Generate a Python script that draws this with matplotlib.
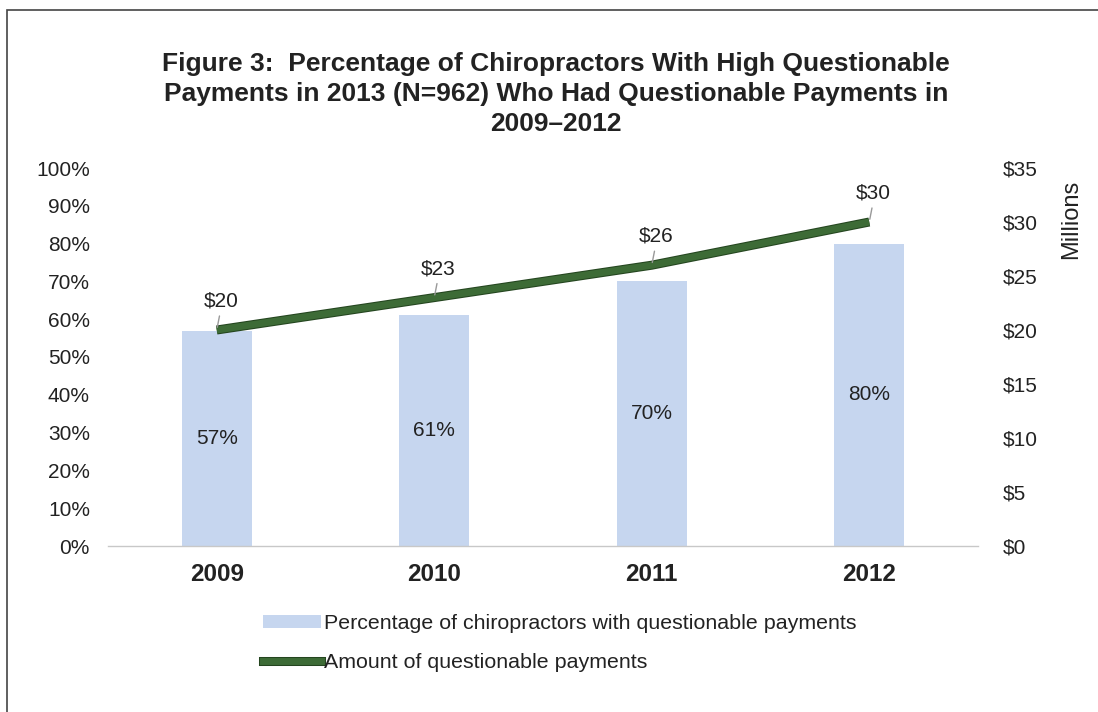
import matplotlib
matplotlib.use("Agg")
import matplotlib.pyplot as plt
from matplotlib.lines import Line2D
from matplotlib.patches import Patch, Rectangle
import matplotlib.patheffects as pe

plt.rcParams['font.family'] = ['Liberation Sans', 'DejaVu Sans']

years = ["2009", "2010", "2011", "2012"]
pct_values = [57, 61, 70, 80]
amount_values = [20, 23, 26, 30]
pct_ticks = [0, 10, 20, 30, 40, 50, 60, 70, 80, 90, 100]
amount_ticks = [0, 5, 10, 15, 20, 25, 30, 35]

title = ("Figure 3:  Percentage of Chiropractors With High Questionable\n"
         "Payments in 2013 (N=962) Who Had Questionable Payments in\n"
         "2009\u20132012")

bar_color = "#c6d6ef"
line_color = "#3d6b36"
text_color = "#222222"

fig = plt.figure(figsize=(10.98, 7.12), dpi=100)
ax = fig.add_axes([108/1098, 1-546/712, 870/1098, 378/712])
ax2 = ax.twinx()

x = list(range(len(years)))
ax.bar(x, pct_values, width=0.32, color=bar_color, zorder=1)
ax.set_xlim(-0.5, len(years) - 0.5)
ax.set_ylim(0, 100)
ax.set_yticks(pct_ticks)
ax.set_yticklabels([f"{v}%" for v in pct_ticks], fontsize=15, color=text_color)
ax.set_xticks(x)
ax.set_xticklabels(years, fontsize=17.5, fontweight='bold', color=text_color)
ax.tick_params(axis='both', length=0)
ax.tick_params(axis='x', pad=12)
ax.tick_params(axis='y', pad=13)
for s in ['top', 'right', 'left']:
    ax.spines[s].set_visible(False)
ax.spines['bottom'].set_color('#c8c8c8')
ax.spines['bottom'].set_linewidth(1)

for xi, v in zip(x, pct_values):
    ax.text(xi, v / 2, f"{v}%", ha='center', va='center', fontsize=15, color=text_color)

stroke = [pe.Stroke(linewidth=6.5, foreground='#24451f'), pe.Normal()]
ax2.plot(x, amount_values, color=line_color, lw=5, solid_capstyle='butt', zorder=3,
         path_effects=stroke)
ax2.set_ylim(0, 35)
ax2.set_yticks(amount_ticks)
ax2.set_yticklabels([f"${v}" for v in amount_ticks], fontsize=15, color=text_color)
ax2.tick_params(axis='y', length=0, pad=18)
for s in ['top', 'right', 'left', 'bottom']:
    ax2.spines[s].set_visible(False)
ax2.set_ylabel("Millions", fontsize=17, color=text_color)
ax2.yaxis.set_label_coords(1.094, 0.865)

for xi, v in zip(x, amount_values):
    ax2.annotate("", xy=(xi, v), xytext=(xi + 0.015, v + 1.55),
                 arrowprops=dict(arrowstyle='-', color='#999999', lw=1))
    ax2.text(xi + 0.02, v + 1.8, f"${v}", ha='center', va='bottom', fontsize=15, color=text_color)

fig.text(556/1098, 1-94/712, title, ha='center', va='center', fontsize=19,
         fontweight='bold', color=text_color, linespacing=1.3)

handles = [Patch(facecolor=bar_color, edgecolor='none'),
           Line2D([0], [0], color=line_color, lw=5, path_effects=stroke)]
labels = ["Percentage of chiropractors with questionable payments",
          "Amount of questionable payments"]
leg = fig.legend(handles, labels, loc='upper left', bbox_to_anchor=(263/1098, 1-614/712),
                 frameon=False, fontsize=15.4, handlelength=2.7, handletextpad=0.15,
                 labelspacing=0.95, handleheight=0.6, borderpad=0, borderaxespad=0)
for t in leg.get_texts():
    t.set_color(text_color)

fig.patches.append(Rectangle((7/1098, -0.05), 1.2, 1-10/712 + 0.05, transform=fig.transFigure,
                             fill=False, edgecolor='#444444', lw=1.2))

fig.savefig("out.png", dpi=100)
